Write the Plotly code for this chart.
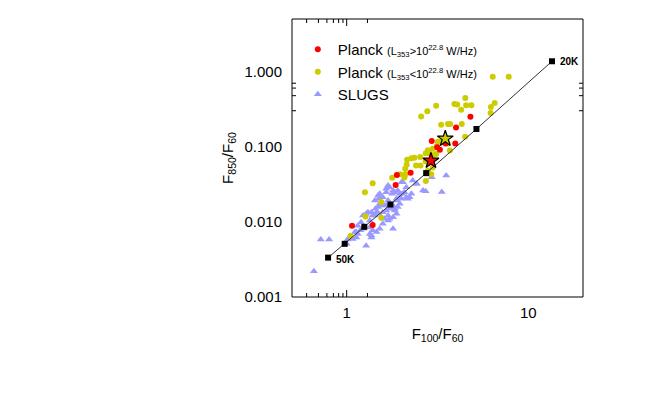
import math
import plotly.graph_objects as go

# Planck, high luminosity (red)
red_x = [4.8, 4.0, 2.94, 3.5, 3.96, 3.15, 3.26, 1.89, 2.25, 1.86, 1.07, 1.39]
red_y = [0.25, 0.18, 0.119, 0.110, 0.110, 0.098, 0.091, 0.042, 0.045, 0.031, 0.0089, 0.0091]

# Planck, low luminosity (yellow)
yel_x = [6.37, 7.8, 3.92, 4.06, 4.5, 4.27, 4.55, 4.86, 3.11, 2.78, 2.57, 6.22, 6.53, 6.2,
         3.31, 3.61, 3.71, 4.3, 4.49, 3.18, 3.33, 3.14, 2.98, 3.6, 3.7, 2.8, 2.72, 2.86,
         3.11, 2.98, 2.15, 2.27, 2.36, 2.54, 2.72, 2.14, 2.1, 2.41, 2.55, 2.98, 1.78, 1.97,
         2.11, 2.08, 2.8, 2.92, 2.73, 1.39, 1.26, 1.55, 1.27, 1.55, 1.05]
yel_y = [0.85, 0.85, 0.37, 0.365, 0.445, 0.31, 0.355, 0.355, 0.35, 0.297, 0.253, 0.337, 0.38, 0.28,
         0.196, 0.2, 0.2, 0.2, 0.136, 0.116, 0.116, 0.101, 0.094, 0.11, 0.089, 0.09, 0.082, 0.081,
         0.080, 0.077, 0.067, 0.07, 0.071, 0.073, 0.064, 0.0575, 0.051, 0.056, 0.056, 0.053, 0.0386, 0.043,
         0.043, 0.039, 0.048, 0.043, 0.035, 0.0325, 0.0248, 0.0184, 0.0118, 0.0113, 0.0065]

# SLUGS (blue triangles)
slugs_x = [0.66, 0.72, 0.80, 1.01, 1.04, 1.11, 1.15, 1.13, 1.19, 1.28, 1.34, 1.37, 1.46, 1.52,
           1.58, 1.62, 1.69, 1.80, 1.88, 1.52, 1.65, 1.84, 1.78, 1.88, 1.96, 1.58, 1.49, 1.31,
           1.39, 1.34, 1.20, 1.65, 1.72, 1.80, 1.96, 2.08, 2.13, 2.42, 2.63, 1.58, 1.49, 1.28,
           1.46, 1.88, 1.76, 2.0, 2.27, 1.23, 3.53, 3.34, 2.94, 2.31, 2.0, 1.43, 1.80,
           1.15, 1.23, 1.13, 1.34, 1.39, 1.37, 1.08, 1.0, 1.43, 1.37, 1.44, 1.55, 1.69, 1.50,
           1.52, 1.65, 1.84, 1.91, 2.02, 2.13, 2.17, 2.22, 1.72, 1.65, 1.58, 1.50, 1.84, 1.91,
           1.96, 1.80, 1.69, 1.72, 1.69, 2.04, 2.43, 2.72]
slugs_y = [0.0022, 0.0058, 0.0058, 0.0058, 0.0062, 0.0073, 0.0069, 0.0062, 0.0077, 0.0048, 0.0069, 0.0062, 0.0073, 0.0081,
           0.0094, 0.011, 0.0104, 0.0115, 0.0128, 0.0174, 0.0165, 0.0149, 0.0236, 0.0203, 0.0213, 0.0213, 0.0224, 0.0134,
           0.0121, 0.0104, 0.0099, 0.0275, 0.0289, 0.0262, 0.0236, 0.0248, 0.0289, 0.0321, 0.0262, 0.0174, 0.0157, 0.0128,
           0.0134, 0.0192, 0.0157, 0.0203, 0.0236, 0.0121, 0.0414, 0.025, 0.0393, 0.0356, 0.0337, 0.0192, 0.0081,
           0.0089, 0.0081, 0.0073, 0.0085, 0.0077, 0.0066, 0.0059, 0.0051, 0.0121, 0.0134, 0.0149, 0.0165, 0.0192, 0.0203,
           0.0236, 0.0248, 0.0248, 0.0262, 0.0236, 0.0213, 0.0203, 0.0213, 0.0149, 0.0142, 0.0134, 0.0128, 0.0142, 0.0157,
           0.0174, 0.0165, 0.0121, 0.011, 0.0305, 0.0337, 0.0321, 0.0256]

# highlighted sources (stars)
star_x = [2.91, 3.49]
star_y = [0.065, 0.128]
star_colors = ["#ff0000", "#cccc00"]

# modified blackbody track, 50K -> 20K
bb_temp = ["50K", "45K", "40K", "35K", "30K", "25K", "20K"]
bb_x = [0.79, 0.975, 1.25, 1.74, 2.74, 5.18, 13.5]
bb_y = [0.00334, 0.0051, 0.00858, 0.017, 0.0445, 0.172, 1.37]

# axis ticks
x_major = [1, 10]
x_minor = [0.6, 0.7, 0.8, 0.9, 2, 3, 4, 5, 6, 7, 8, 9, 20]
y_major = [0.001, 0.01, 0.1, 1]
y_major_text = ["0.001", "0.010", "0.100", "1.000"]
y_minor = [m * 10 ** e for e in (-3, -2, -1) for m in range(2, 10)] + [2, 3, 4, 5]

font = "Liberation Sans, Arial, sans-serif"
plot_w, plot_h = 291, 278

fig = go.Figure()

fig.add_trace(go.Scatter(
    x=slugs_x, y=slugs_y, mode="markers", name="SLUGS",
    marker=dict(symbol="triangle-up", size=7, color="#9999ff"),
    legendrank=3,
))
fig.add_trace(go.Scatter(
    x=yel_x, y=yel_y, mode="markers",
    name="Planck <span style='font-size:11px'>(L<sub>353</sub>&lt;10<sup>22.8</sup> W/Hz)</span>",
    marker=dict(symbol="circle", size=6, color="#cccc00"),
    legendrank=2,
))
fig.add_trace(go.Scatter(
    x=red_x, y=red_y, mode="markers",
    name="Planck <span style='font-size:11px'>(L<sub>353</sub>&gt;10<sup>22.8</sup> W/Hz)</span>",
    marker=dict(symbol="circle", size=6, color="#ff0000"),
    legendrank=1,
))
fig.add_trace(go.Scatter(
    x=bb_x, y=bb_y, mode="lines+markers", showlegend=False,
    line=dict(color="#333333", width=1),
    marker=dict(symbol="square", size=6, color="black"),
))
fig.add_trace(go.Scatter(
    x=star_x, y=star_y, mode="markers", showlegend=False,
    marker=dict(symbol="star", size=12, color=star_colors,
                line=dict(color="black", width=1.2)),
))

# temperature labels at the two ends of the track (log axes take log10 positions)
for i, ys in ((0, -2), (-1, 0)):
    fig.add_annotation(x=math.log10(bb_x[i]), y=math.log10(bb_y[i]),
                       text="<b>" + bb_temp[i] + "</b>", xref="x", yref="y",
                       showarrow=False, xanchor="left", xshift=6, yshift=ys,
                       font=dict(size=10, color="black", family=font))

# frame and tick marks drawn as shapes (on every side, pointing inward)
line = dict(color="black", width=1)
fig.add_shape(type="rect", xref="paper", yref="paper", x0=0, x1=1, y0=0, y1=1, line=line)
for v, ln in [(v, 7) for v in x_major] + [(v, 4) for v in x_minor]:
    lv = math.log10(v)
    fig.add_shape(type="line", xref="x", yref="paper", x0=lv, x1=lv, y0=0, y1=ln / plot_h, line=line)
    fig.add_shape(type="line", xref="x", yref="paper", x0=lv, x1=lv, y0=1, y1=1 - ln / plot_h, line=line)
for v, ln in [(v, 7) for v in y_major] + [(v, 4) for v in y_minor]:
    lv = math.log10(v)
    fig.add_shape(type="line", xref="paper", yref="y", y0=lv, y1=lv, x0=0, x1=ln / plot_w, line=line)
    fig.add_shape(type="line", xref="paper", yref="y", y0=lv, y1=lv, x0=1, x1=1 - ln / plot_w, line=line)

axis_common = dict(
    showline=False, ticks="", showgrid=False, zeroline=False,
    tickfont=dict(size=15, color="black", family=font),
)

fig.update_xaxes(
    type="log", range=[math.log10(0.5), math.log10(20)],
    tickvals=x_major, ticktext=[str(v) for v in x_major],
    ticklabelstandoff=5,
    title=dict(text="F<sub>100</sub>/F<sub>60</sub>", font=dict(size=15, family=font, color="black"),
               standoff=8),
    **axis_common,
)
fig.update_yaxes(
    type="log", range=[-3, math.log10(5)],
    tickvals=y_major, ticktext=y_major_text,
    ticklabelstandoff=9,
    title=dict(text="F<sub>850</sub>/F<sub>60</sub>", font=dict(size=15, family=font, color="black"),
               standoff=7),
    **axis_common,
)

# the page puts the plot 8px in from the top-left corner
fig.update_layout(
    width=648, height=396,
    margin=dict(l=284, r=73, t=11, b=107),
    paper_bgcolor="white", plot_bgcolor="white",
    font=dict(family=font, color="black"),
    legend=dict(x=0.02, y=0.95, xanchor="left", yanchor="top",
                bgcolor="rgba(0,0,0,0)", font=dict(size=15, family=font, color="black"),
                itemwidth=30, tracegroupgap=0),
    showlegend=True,
)

fig.write_html("out.html")
